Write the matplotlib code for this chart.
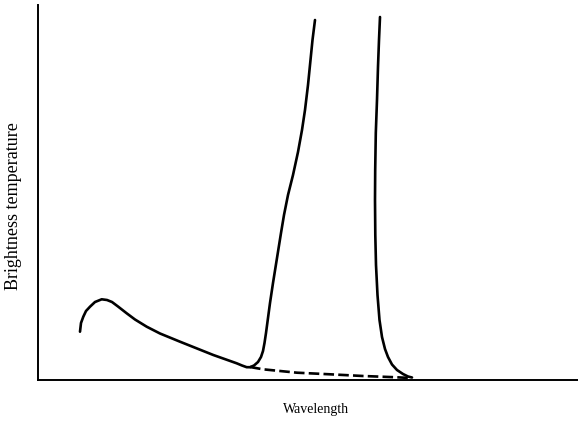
import numpy as np
import matplotlib
matplotlib.use("Agg")
import matplotlib.pyplot as plt

# curve values, arbitrary units
peak_wl = [42, 43, 45.3, 48, 52, 57, 63.7, 69, 74, 80, 88.7, 97, 108.7, 122, 142,
           175.3, 198.7, 204, 208.7, 212, 216, 220, 223, 225, 226.5, 228, 230,
           232, 235, 239, 243, 246, 250, 255, 260, 264, 267, 270, 272.5, 274.5, 277]
peak_tb = [48.3, 57, 63.3, 69, 73.3, 78, 80.7, 80, 78, 73.5, 66.7, 60.5, 53.3, 46.5, 38.3,
           25, 16.7, 14.5, 12.8, 12.8, 14.5, 18, 23, 29, 37, 47, 62,
           77, 97, 122, 147, 165, 185, 205, 228, 250, 270, 295, 320, 340, 360]

edge_wl = [342, 341, 340, 339, 337.8, 337.2, 337, 337.3, 338, 339.5, 341.5, 344,
           347, 350, 354, 359, 365, 370, 374]
edge_tb = [363, 340, 313.3, 280, 247, 210, 180, 145, 115, 85, 60, 43,
           31, 23, 15.5, 10, 6, 3.5, 2.5]

base_wl = [212, 225, 259, 292, 325, 359, 372]
base_tb = [13, 10.7, 7.3, 5.7, 4, 2.7, 2]

fig = plt.figure(figsize=(5.78, 4.21), dpi=100)
ax = fig.add_axes([38 / 578, 41 / 421, 540 / 578, 375 / 421])

ax.plot(peak_wl, peak_tb, color='black', lw=1.9, solid_capstyle='round',
        solid_joinstyle='round')
ax.plot(edge_wl, edge_tb, color='black', lw=1.9, solid_capstyle='round',
        solid_joinstyle='round')
ax.plot(base_wl, base_tb, color='black', lw=1.9, linestyle=(0, (4, 1.6)))

ax.set_xlim(0, 540)
ax.set_ylim(0, 375)
ax.set_xticks([])
ax.set_yticks([])
for side in ['top', 'right']:
    ax.spines[side].set_visible(False)
for side in ['left', 'bottom']:
    ax.spines[side].set_linewidth(1.4)

fig.text(316 / 578, 1 - 410 / 421, 'Wavelength', family='Liberation Serif',
         fontsize=10, ha='center', va='center')
fig.text(14 / 578, 1 - 206 / 421, 'Brightness temperature', family='Liberation Serif',
         fontsize=13, rotation=90, ha='center', va='center')

plt.savefig('out.png', dpi=100)
